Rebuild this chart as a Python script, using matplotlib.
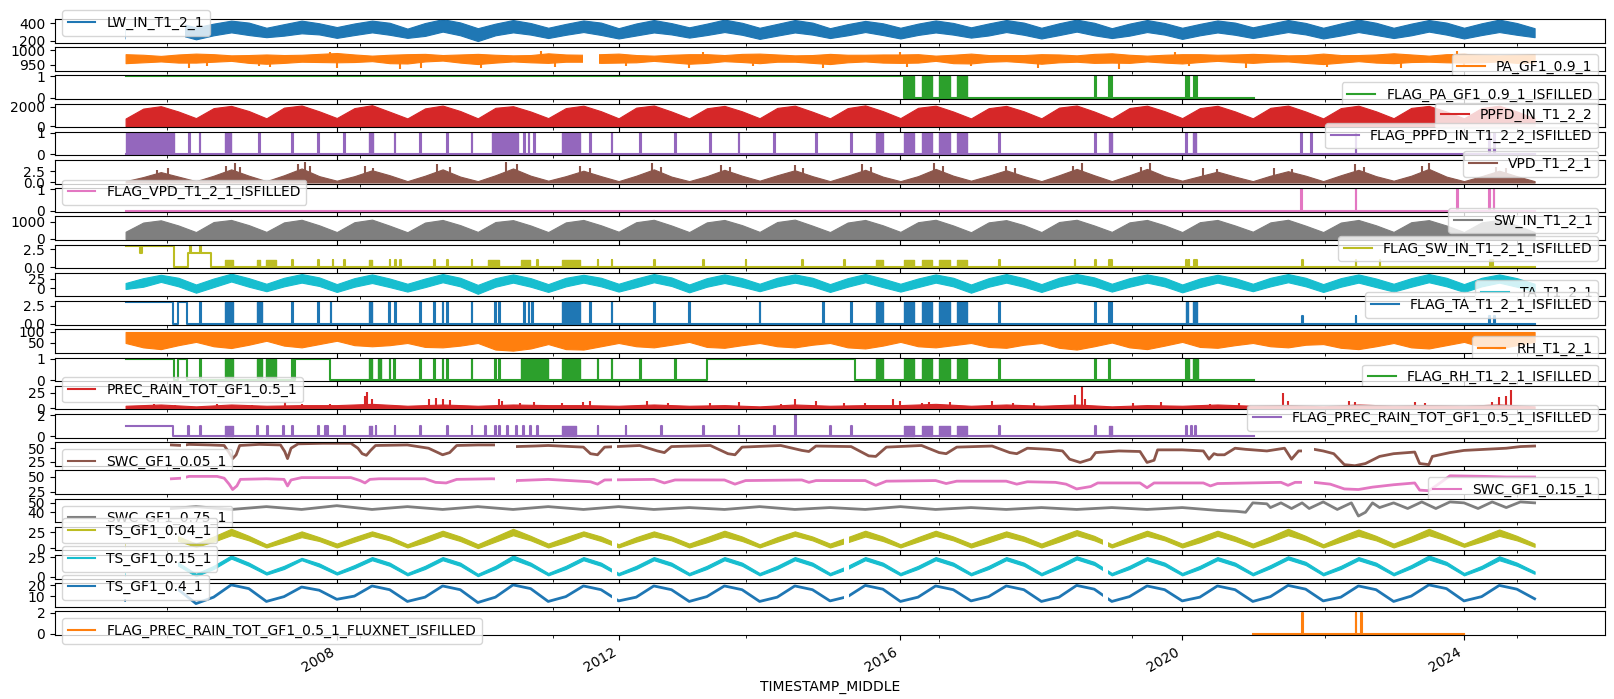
import numpy as np
import pandas as pd
import matplotlib
matplotlib.use("Agg")
import matplotlib.pyplot as plt
import matplotlib.dates as mdates
from matplotlib.ticker import FixedLocator

# ---------------- values (times in decimal years) ----------------
columns = ["LW_IN_T1_2_1", "PA_GF1_0.9_1", "FLAG_PA_GF1_0.9_1_ISFILLED", "PPFD_IN_T1_2_2",
           "FLAG_PPFD_IN_T1_2_2_ISFILLED", "VPD_T1_2_1", "FLAG_VPD_T1_2_1_ISFILLED",
           "SW_IN_T1_2_1", "FLAG_SW_IN_T1_2_1_ISFILLED", "TA_T1_2_1", "FLAG_TA_T1_2_1_ISFILLED",
           "RH_T1_2_1", "FLAG_RH_T1_2_1_ISFILLED", "PREC_RAIN_TOT_GF1_0.5_1",
           "FLAG_PREC_RAIN_TOT_GF1_0.5_1_ISFILLED", "SWC_GF1_0.05_1", "SWC_GF1_0.15_1",
           "SWC_GF1_0.75_1", "TS_GF1_0.04_1", "TS_GF1_0.15_1", "TS_GF1_0.4_1",
           "FLAG_PREC_RAIN_TOT_GF1_0.5_1_FLUXNET_ISFILLED"]

# quarterly envelopes: Jan values for 2005..2025, Apr / Jul / Oct values for 2005..2024
lw_lo_jan = [225, 215, 240, 232, 232, 195, 230, 225, 235, 220, 230, 225, 235, 225, 230, 220, 230, 225, 230, 225, 240]
lw_lo_apr = [260, 262, 258, 265, 255, 262, 268, 260, 265, 258, 262, 266, 260, 264, 258, 262, 265, 260, 262, 265]
lw_lo_jul = [300, 296, 285, 296, 305, 296, 300, 295, 300, 295, 300, 295, 300, 305, 300, 295, 300, 300, 305, 300]
lw_lo_oct = [270, 265, 272, 268, 262, 270, 266, 272, 268, 270, 265, 270, 268, 262, 270, 268, 272, 266, 270, 268]
lw_hi_jan = [350, 355, 350, 358, 340, 345, 350, 345, 355, 350, 345, 350, 355, 350, 345, 350, 355, 350, 350, 350, 345]
lw_hi_apr = [395, 398, 392, 400, 405, 398, 395, 400, 398, 395, 392, 398, 400, 402, 398, 395, 398, 400, 398, 402]
lw_hi_jul = [430, 433, 433, 433, 450, 440, 435, 440, 445, 440, 430, 435, 440, 445, 440, 435, 440, 445, 440, 445]
lw_hi_oct = [405, 410, 402, 408, 412, 405, 410, 404, 408, 410, 402, 406, 410, 408, 405, 410, 406, 408, 410, 405]
lw_gaps = [(2005.0, 2005.85)]

pa_lo_jan = [955, 957, 953, 958, 954, 952, 956, 957, 953, 955, 952, 956, 954, 953, 957, 954, 956, 952, 955, 957, 958]
pa_lo_apr = [958, 960, 956, 959, 961, 957, 960, 958, 956, 960, 958, 957, 960, 958, 956, 959, 960, 957, 959, 958]
pa_lo_jul = [961, 963, 960, 962, 964, 961, 960, 963, 962, 960, 961, 963, 962, 960, 961, 963, 961, 962, 960, 961]
pa_lo_oct = [957, 956, 959, 955, 957, 958, 956, 958, 959, 956, 957, 955, 958, 956, 957, 959, 956, 957, 958, 956]
pa_hi_jan = [986, 988, 985, 990, 986, 987, 989, 988, 986, 988, 987, 985, 988, 986, 989, 986, 987, 988, 989, 987, 986]
pa_hi_apr = [984, 986, 983, 985, 987, 984, 985, 983, 986, 985, 984, 986, 983, 985, 984, 986, 985, 983, 985, 984]
pa_hi_jul = [980, 982, 984, 981, 983, 982, 984, 981, 983, 982, 984, 981, 983, 982, 981, 984, 982, 983, 981, 982]
pa_hi_oct = [985, 983, 987, 984, 985, 983, 986, 984, 987, 983, 985, 984, 983, 987, 984, 985, 983, 985, 986, 984]
pa_dips = [(2005.9, 940), (2006.15, 944), (2006.9, 946), (2007.05, 942), (2008.0, 938), (2008.9, 935),
           (2009.2, 940), (2010.05, 938), (2011.1, 942), (2012.1, 944), (2013.0, 940), (2013.9, 945),
           (2014.9, 938), (2016.1, 942), (2017.0, 944), (2017.95, 940), (2019.1, 936), (2020.1, 944),
           (2020.9, 940), (2022.05, 942), (2023.1, 938), (2024.0, 944)]
pa_peaks = [(2007.9, 994), (2010.9, 996), (2013.2, 993), (2016.0, 995), (2019.9, 994), (2023.9, 996)]
pa_gaps = [(2011.5, 2011.72)]

ppfd_jan = [780, 820, 800, 830, 790, 800, 820, 800, 790, 810, 800, 820, 790, 800, 780, 820, 800, 790, 810, 800, 800]
ppfd_apr = [1800, 1850, 1900, 1850, 1820, 1880, 1850, 1900, 1830, 1870, 1850, 1880, 1840, 1900, 1860, 1850, 1880, 1850, 1870, 1860]
ppfd_jul = [2050, 2080, 2120, 2150, 2110, 2050, 2100, 2120, 2080, 2100, 2130, 2100, 2080, 2120, 2100, 2090, 2110, 2100, 2080, 2100]
ppfd_oct = [1500, 1550, 1520, 1480, 1550, 1500, 1530, 1500, 1520, 1480, 1540, 1500, 1520, 1500, 1530, 1510, 1500, 1520, 1500, 1510]

sw_jan = [420, 400, 410, 400, 390, 410, 400, 420, 400, 410, 400, 410, 390, 400, 410, 400, 420, 400, 410, 400, 400]
sw_apr = [950, 980, 960, 970, 950, 980, 960, 970, 960, 980, 950, 970, 960, 980, 960, 970, 960, 950, 970, 960]
sw_jul = [1080, 1100, 1110, 1120, 1100, 1090, 1100, 1110, 1100, 1120, 1100, 1110, 1090, 1110, 1100, 1100, 1110, 1100, 1090, 1100]
sw_oct = [780, 800, 790, 770, 800, 780, 790, 780, 800, 770, 790, 780, 800, 780, 790, 780, 770, 790, 780, 790]

vpd_jan = [0.3, 0.3, 0.3, 0.4, 0.3, 0.3, 0.4, 0.3, 0.3, 0.4, 0.3, 0.3, 0.4, 0.3, 0.3, 0.4, 0.3, 0.3, 0.4, 0.3, 0.3]
vpd_apr = [1.2, 1.5, 1.6, 1.4, 1.5, 1.6, 1.4, 1.5, 1.4, 1.6, 1.5, 1.4, 1.5, 1.6, 1.6, 1.4, 1.5, 1.6, 1.5, 1.4]
vpd_jul = [2.3, 2.9, 3.1, 2.7, 2.9, 3.1, 2.6, 2.9, 2.8, 2.7, 2.8, 3.0, 2.7, 3.0, 3.0, 2.4, 2.5, 2.8, 3.0, 2.6]
vpd_oct = [1.3, 1.5, 1.4, 1.6, 1.3, 1.5, 1.4, 1.3, 1.5, 1.4, 1.3, 1.5, 1.4, 1.6, 1.4, 1.3, 1.5, 1.4, 1.3, 1.4]
vpd_spikes = [(2005.45, 2.8), (2005.6, 3.1), (2006.42, 3.6), (2006.55, 4.2), (2006.63, 3.4), (2007.45, 4.0),
              (2007.55, 4.6), (2007.62, 3.6), (2008.4, 3.7), (2008.52, 3.3), (2009.42, 4.1), (2009.6, 3.5),
              (2010.4, 4.6), (2010.55, 4.0), (2011.45, 3.6), (2011.6, 3.2), (2012.48, 4.2), (2012.6, 3.5),
              (2013.45, 3.9), (2013.58, 3.4), (2014.5, 3.8), (2014.62, 3.3), (2015.45, 4.0), (2015.58, 3.5),
              (2016.47, 4.4), (2016.6, 3.7), (2017.5, 3.7), (2017.62, 3.3), (2018.57, 4.4), (2018.45, 3.6),
              (2019.54, 4.4), (2019.42, 3.5), (2020.3, 3.2), (2020.5, 3.0), (2021.3, 3.3), (2021.55, 3.0),
              (2022.45, 4.0), (2022.58, 3.4), (2023.5, 4.3), (2023.4, 3.6), (2024.45, 3.5), (2024.6, 3.1)]

ta_lo_jan = [-2, -12, -8, -10, -9, -15, -10, -9, -11, -8, -10, -9, -12, -10, -9, -11, -8, -10, -9, -10, -8]
ta_lo_apr = [4, 3, 5, 4, 3, 4, 5, 3, 4, 5, 4, 3, 4, 5, 4, 3, 5, 4, 4, 5]
ta_lo_jul = [17, 18, 15, 14, 16, 15, 15, 16, 14, 15, 16, 15, 15, 16, 15, 15, 16, 15, 16, 15]
ta_lo_oct = [5, 4, 6, 3, 5, 4, 5, 6, 4, 5, 3, 5, 4, 6, 5, 4, 5, 3, 5, 4]
ta_hi_jan = [14, 10, 12, 11, 12, 9, 11, 12, 10, 12, 11, 12, 10, 11, 12, 10, 12, 11, 12, 11, 12]
ta_hi_apr = [27, 26, 28, 27, 26, 27, 28, 26, 27, 28, 27, 26, 27, 28, 27, 26, 28, 27, 27, 28]
ta_hi_jul = [36, 39, 38, 37, 38, 37, 36, 38, 37, 37, 38, 37, 38, 38, 37, 36, 38, 37, 38, 37]
ta_hi_oct = [28, 27, 29, 26, 28, 27, 28, 29, 27, 28, 26, 28, 27, 29, 28, 27, 28, 26, 28, 27]

rh_top = 100
rh_lo_jan = [50, 55, 60, 60, 50, 50, 45, 50, 55, 50, 50, 55, 50, 50, 52, 55, 50, 45, 50, 55, 55]
rh_lo_apr = [30, 35, 38, 40, 32, 20, 22, 35, 32, 35, 30, 35, 32, 28, 30, 32, 35, 28, 30, 32]
rh_lo_jul = [22, 27, 30, 35, 30, 15, 20, 30, 28, 30, 25, 30, 28, 20, 22, 28, 30, 22, 25, 25]
rh_lo_oct = [40, 42, 45, 40, 38, 25, 35, 42, 40, 42, 38, 40, 42, 35, 38, 40, 42, 35, 40, 40]

# half-year values: winter on 1 Jan 2005..2025, summer on 1 Jul 2005..2024
prec_winter = [4, 3, 4, 5, 4, 4, 5, 4, 4, 3, 4, 5, 4, 4, 3, 4, 4, 3, 4, 4, 3]
prec_summer = [6, 6, 5, 7, 6, 6, 5, 6, 5, 6, 5, 7, 6, 6, 5, 6, 5, 6, 5, 6]
prec_spikes = [(2005.4, 6), (2005.7, 5), (2006.3, 6), (2006.8, 5), (2007.27, 10), (2007.5, 7), (2007.9, 6),
               (2008.4, 20), (2008.43, 26), (2008.5, 15), (2009.3, 14), (2009.4, 17), (2009.5, 15),
               (2009.6, 13), (2010.3, 15), (2010.35, 12), (2010.6, 9), (2010.8, 10), (2011.2, 8),
               (2011.5, 10), (2011.6, 12), (2012.4, 12), (2012.7, 8), (2013.3, 9), (2013.7, 10),
               (2014.3, 7), (2014.5, 14), (2014.8, 12), (2015.2, 8), (2015.5, 9), (2015.9, 14),
               (2016.0, 12), (2016.3, 8), (2016.4, 10), (2016.7, 10), (2017.3, 11), (2017.6, 8),
               (2017.9, 9), (2018.47, 22), (2018.58, 34), (2018.62, 15), (2019.3, 8), (2019.7, 10),
               (2020.4, 7), (2020.8, 9), (2021.43, 24), (2021.5, 12), (2022.37, 12), (2022.45, 10),
               (2023.3, 10), (2023.45, 8), (2024.4, 10), (2024.5, 18), (2024.6, 20), (2024.66, 30)]

swc005 = [(2005.65, 56), (2005.8, 55), (2005.9, 57), (2006.2, 56), (2006.4, 55), (2006.47, 42), (2006.52, 31),
          (2006.57, 38), (2006.62, 55), (2006.9, 57), (2007.2, 56), (2007.26, 44), (2007.3, 31), (2007.35, 50),
          (2007.45, 58), (2007.8, 59), (2008.2, 59), (2008.3, 50), (2008.36, 40), (2008.42, 37), (2008.48, 46),
          (2008.55, 55), (2009.0, 56), (2009.3, 50), (2009.4, 44), (2009.5, 38), (2009.6, 42), (2009.7, 55),
          (2010.0, 56), (2010.25, 56), (2010.54, 53), (2010.8, 54), (2011.0, 55), (2011.5, 52), (2011.6, 40),
          (2011.7, 38), (2011.8, 52), (2012.3, 55), (2012.55, 45), (2012.65, 42), (2012.75, 53), (2013.3, 55),
          (2013.55, 40), (2013.65, 38), (2013.75, 52), (2014.3, 55), (2014.6, 46), (2014.7, 44), (2014.8, 54),
          (2015.3, 53), (2015.55, 36), (2015.65, 35), (2015.8, 52), (2016.3, 55), (2016.55, 42), (2016.65, 40),
          (2016.8, 52), (2017.3, 54), (2017.55, 42), (2017.65, 40), (2017.8, 50), (2018.1, 48), (2018.3, 45),
          (2018.4, 30), (2018.55, 24), (2018.7, 30), (2018.77, 42), (2019.1, 45), (2019.4, 44), (2019.5, 24),
          (2019.6, 28), (2019.65, 47), (2020.0, 47), (2020.3, 45), (2020.38, 30), (2020.45, 40), (2020.5, 38),
          (2020.6, 38), (2020.75, 50), (2020.9, 48), (2021.2, 45), (2021.45, 50), (2021.55, 30), (2021.65, 45),
          (2021.7, 45), (2021.87, 48), (2022.0, 45), (2022.15, 40), (2022.3, 20), (2022.45, 18), (2022.6, 22),
          (2022.8, 35), (2023.0, 40), (2023.3, 43), (2023.37, 22), (2023.5, 20), (2023.55, 35), (2023.8, 42),
          (2024.0, 46), (2024.3, 48), (2024.6, 50), (2024.8, 53), (2025.0, 54)]
swc015 = [(2005.65, 47), (2005.8, 48), (2005.9, 51), (2006.3, 51), (2006.4, 48), (2006.47, 38), (2006.52, 29),
          (2006.58, 35), (2006.63, 46), (2007.0, 47), (2007.25, 46), (2007.3, 35), (2007.35, 45), (2007.5, 49),
          (2008.2, 49), (2008.33, 44), (2008.4, 40), (2008.47, 46), (2008.6, 47), (2009.25, 47), (2009.4, 41),
          (2009.55, 40), (2009.7, 46), (2010.2, 47), (2010.45, 46), (2010.5, 38), (2010.55, 44), (2011.0, 46),
          (2011.6, 42), (2011.7, 38), (2011.8, 45), (2012.5, 46), (2012.65, 40), (2012.8, 45), (2013.5, 45),
          (2013.65, 38), (2013.8, 44), (2014.6, 45), (2014.7, 41), (2014.8, 44), (2015.5, 44), (2015.65, 36),
          (2015.8, 43), (2016.5, 44), (2016.65, 39), (2016.8, 43), (2017.5, 43), (2017.65, 38), (2017.8, 42),
          (2018.2, 41), (2018.35, 38), (2018.5, 30), (2018.7, 34), (2018.8, 40), (2019.4, 40), (2019.5, 32),
          (2019.6, 40), (2020.3, 40), (2020.4, 35), (2020.5, 39), (2021.4, 41), (2021.5, 36), (2021.6, 41),
          (2021.87, 41), (2022.1, 38), (2022.3, 30), (2022.5, 29), (2022.7, 33), (2023.0, 37), (2023.3, 40),
          (2023.37, 28), (2023.5, 27), (2023.6, 35), (2023.8, 52), (2024.3, 51), (2024.6, 50), (2025.0, 50)]
swc_gaps = [(2005.78, 2005.86), (2010.25, 2010.54), (2011.9, 2011.97), (2021.7, 2021.87)]
swc075 = [(2005.65, 44), (2006.0, 46), (2006.5, 43), (2007.0, 46), (2007.5, 43), (2008.0, 47), (2008.5, 43),
          (2009.0, 46), (2009.5, 43), (2010.0, 46), (2010.5, 43), (2011.0, 46), (2011.5, 43), (2012.0, 46),
          (2012.5, 43), (2013.0, 45), (2013.5, 43), (2014.0, 46), (2014.5, 43), (2015.0, 45), (2015.5, 43),
          (2016.0, 46), (2016.5, 43), (2017.0, 45), (2017.5, 43), (2018.0, 45), (2018.5, 43), (2019.0, 45),
          (2019.5, 43), (2020.0, 45), (2020.5, 42), (2020.77, 41), (2020.9, 40), (2021.0, 50), (2021.2, 49),
          (2021.25, 45), (2021.4, 50), (2021.55, 44), (2021.7, 50), (2021.8, 44), (2022.0, 51), (2022.2, 43),
          (2022.4, 50), (2022.5, 36), (2022.6, 40), (2022.7, 50), (2022.8, 45), (2023.0, 50), (2023.2, 44),
          (2023.4, 51), (2023.6, 44), (2023.8, 51), (2024.0, 50), (2024.2, 44), (2024.4, 51), (2024.6, 45),
          (2024.8, 51), (2025.0, 50)]

ts004_lo_jan = [1, 2, 1, 1, 1, 0, 1, 1, 1, 1, 1, 1, 1, 1, 1, 1, 1, 1, 1, 2, 2]
ts004_lo_apr = [9, 10, 9, 10, 9, 10, 9, 10, 9, 10, 9, 10, 9, 10, 10, 9, 10, 10, 10, 10]
ts004_lo_jul = [19, 20, 17, 19, 19, 20, 19, 18, 18, 19, 18, 19, 18, 20, 19, 19, 20, 19, 20, 19]
ts004_lo_oct = [11, 12, 11, 12, 11, 12, 11, 12, 11, 12, 11, 12, 11, 12, 12, 11, 12, 12, 12, 12]
ts004_hi_jan = [7, 7, 6, 7, 6, 6, 7, 6, 7, 6, 7, 6, 7, 7, 6, 7, 7, 6, 7, 7, 7]
ts004_hi_apr = [17, 18, 16, 17, 17, 18, 17, 17, 17, 17, 17, 17, 17, 18, 17, 17, 18, 18, 18, 18]
ts004_hi_jul = [28, 30, 26, 26, 27, 30, 26, 26, 27, 26, 27, 27, 26, 28, 27, 27, 30, 29, 30, 29]
ts004_hi_oct = [18, 19, 17, 18, 18, 19, 18, 18, 18, 18, 18, 18, 18, 19, 18, 18, 19, 19, 19, 19]
ts015_lo_jan = [1, 1, 3, 3, 2, 1, 2, 2, 2, 2, 2, 2, 2, 2, 2, 2, 2, 2, 2, 2, 4]
ts015_lo_apr = [10, 10, 10, 11, 10, 10, 10, 10, 10, 10, 10, 10, 10, 11, 10, 10, 11, 10, 11, 10]
ts015_lo_jul = [22, 23, 21, 21, 21, 22, 21, 21, 21, 21, 21, 21, 21, 22, 21, 21, 22, 21, 22, 21]
ts015_lo_oct = [14, 14, 13, 14, 14, 14, 14, 14, 14, 14, 14, 14, 14, 15, 14, 14, 15, 14, 15, 14]
ts015_hi_jan = [5, 4, 6, 6, 5, 4, 5, 5, 5, 5, 5, 5, 5, 5, 5, 5, 5, 5, 5, 5, 7]
ts015_hi_apr = [14, 14, 14, 15, 14, 14, 14, 14, 14, 14, 14, 14, 14, 15, 14, 14, 15, 14, 15, 14]
ts015_hi_jul = [26, 27, 24, 25, 25, 27, 25, 25, 25, 25, 25, 25, 25, 26, 25, 25, 26, 25, 27, 26]
ts015_hi_oct = [18, 18, 17, 18, 18, 18, 18, 18, 18, 18, 18, 18, 18, 19, 18, 18, 19, 18, 19, 18]
ts040_jan = [6, 3, 5, 7, 5, 4, 5, 5.5, 5, 5, 5.5, 5, 5.5, 5, 5, 5.5, 5, 5.5, 5, 5.5, 7.5]
ts040_apr = [9, 9, 9.5, 10, 9, 9, 9.5, 9, 9.5, 9, 9.5, 9, 9.5, 9, 9.5, 9, 9.5, 9, 10, 9.5]
ts040_jul = [19, 20.5, 18.5, 19.5, 19.5, 20.5, 19.5, 19.5, 19.5, 19.5, 20, 19.5, 19.5, 20, 19.5, 19.5, 20, 19.5, 20.5, 20]
ts040_oct = [16, 17, 15.5, 16, 16, 17, 16, 16, 16, 16, 16.5, 16, 16, 16.5, 16, 16, 16.5, 16, 17, 16.5]
ts_gaps = [(2005.0, 2005.75), (2011.9, 2011.97), (2015.2, 2015.27), (2018.87, 2018.94)]

# flags: step levels (time, value), short spikes (time, value), dense bursts (start, end, value)
mid_bursts = [(2015.65, 2015.75), (2016.05, 2016.2), (2016.3, 2016.45), (2016.55, 2016.7), (2016.8, 2016.95)]

flag_pa_levels = [(2005.0, 1), (2016.05, 0), (2021.02, np.nan)]
flag_pa_spikes = [(2018.76, 1), (2018.96, 1), (2018.99, 1), (2020.06, 1), (2020.09, 1), (2020.17, 1), (2020.2, 1)]
flag_pa_bursts = [(a, b, 1) for a, b in mid_bursts[1:]]

flag_ppfd_levels = [(2005.0, 0), (2025.0, np.nan)]
flag_ppfd_spikes = [(t, 1) for t in [2005.9, 2006.05, 2006.9, 2007.37, 2007.73, 2008.1, 2008.82, 2009.18, 2009.56,
                                     2009.91, 2010.24, 2010.66, 2010.72, 2010.8, 2011.6, 2011.9, 2012.3, 2012.8,
                                     2013.3, 2013.7, 2014.2, 2014.8, 2015.3, 2017.4, 2018.76, 2020.06, 2021.68,
                                     2021.83, 2022.46, 2024.35, 2024.43]]
flag_ppfd_bursts = [(2005.0, 2005.69, 1), (2006.41, 2006.5, 1), (2008.45, 2008.51, 1), (2010.2, 2010.57, 1),
                    (2011.2, 2011.45, 1), (2018.96, 2019.0, 1), (2020.15, 2020.2, 1)] + \
                   [(a, b, 1) for a, b in mid_bursts]

flag_vpd_levels = [(2005.0, 0), (2025.0, np.nan)]
flag_vpd_spikes = [(2021.68, 1), (2022.46, 1), (2023.9, 1), (2024.36, 1), (2024.42, 1)]

flag_sw_levels = [(2005.0, 3), (2005.21, 2), (2005.23, 3), (2005.68, 0), (2005.89, 2), (2006.22, 0), (2025.0, np.nan)]
flag_sw_spikes = [(2005.91, 3), (2006.06, 3)] + \
                 [(t, 1) for t in [2007.37, 2007.73, 2007.94, 2008.1, 2008.75, 2008.83, 2008.9, 2009.38, 2009.56,
                                   2009.91, 2010.84, 2011.7, 2011.9, 2012.5, 2013.2, 2013.8, 2014.6, 2015.2,
                                   2017.4, 2018.47, 2018.76, 2018.96, 2018.99, 2020.06, 2020.09, 2020.17,
                                   2020.2, 2021.7, 2022.46, 2022.8, 2024.37, 2024.4]]
flag_sw_bursts = [(2006.41, 2006.52, 1), (2006.87, 2006.91, 1), (2007.0, 2007.14, 1), (2008.45, 2008.5, 1),
                  (2010.15, 2010.3, 1), (2010.62, 2010.74, 1), (2011.2, 2011.45, 1)] + \
                 [(a, b, 1) for a, b in mid_bursts]

flag_ta_levels = [(2005.0, 3), (2005.67, 0), (2005.75, 3), (2005.87, 0), (2025.0, np.nan)]
flag_ta_spikes = [(t, 3) for t in [2006.06, 2007.37, 2007.73, 2007.91, 2008.74, 2008.83, 2009.18, 2009.38, 2009.5,
                                   2009.56, 2009.91, 2010.24, 2010.3, 2010.66, 2010.72, 2010.77, 2011.6, 2011.9,
                                   2012.5, 2013.0, 2014.0, 2014.9, 2015.3, 2017.4, 2018.76, 2018.96, 2018.99]] + \
                 [(2021.7, 1), (2022.46, 1), (2024.35, 1), (2024.43, 1)]
flag_ta_bursts = [(2006.41, 2006.52, 3), (2006.87, 2006.93, 3), (2008.45, 2008.5, 3), (2011.2, 2011.45, 3),
                  (2020.05, 2020.08, 3), (2020.15, 2020.21, 3)] + [(a, b, 3) for a, b in mid_bursts]

flag_rh_levels = [(2005.0, 1), (2005.68, 0), (2005.75, 1), (2005.87, 0), (2007.41, 1), (2007.9, 0),
                  (2013.25, 1), (2015.35, 0), (2021.02, np.nan)]
flag_rh_spikes = [(t, 1) for t in [2006.06, 2007.37, 2008.75, 2008.81, 2009.18, 2009.38, 2009.5, 2009.56, 2009.91,
                                   2010.24, 2010.3, 2011.7, 2011.9, 2012.3, 2012.8, 2017.4, 2018.76, 2018.96,
                                   2020.06, 2020.18]]
flag_rh_bursts = [(2006.41, 2006.52, 1), (2006.87, 2006.93, 1), (2007.0, 2007.14, 1), (2008.45, 2008.5, 1),
                  (2008.58, 2008.63, 1), (2010.62, 2011.0, 1), (2011.2, 2011.45, 1), (2020.05, 2020.1, 1),
                  (2020.15, 2020.22, 1)] + [(a, b, 1) for a, b in mid_bursts]

flag_prec_levels = [(2005.0, 1), (2005.67, 0), (2021.02, np.nan)]
flag_prec_spikes = [(t, 1) for t in [2005.89, 2006.06, 2006.87, 2007.01, 2007.24, 2007.37, 2007.73, 2007.83,
                                     2007.86, 2008.1, 2008.55, 2008.82, 2009.18, 2009.56, 2009.91, 2010.1, 2010.24,
                                     2010.3, 2010.41, 2010.54, 2010.64, 2010.74, 2010.84, 2011.7, 2012.1, 2012.6,
                                     2013.2, 2013.7, 2014.2, 2015.0, 2015.3, 2017.4, 2018.76, 2020.06, 2020.12,
                                     2020.18]] + [(2014.5, 2)]
flag_prec_bursts = [(2006.41, 2006.53, 1), (2008.45, 2008.5, 1), (2011.2, 2011.4, 1), (2018.96, 2019.0, 1)] + \
                   [(a, b, 1) for a, b in mid_bursts[1:]]

flag_flux_levels = [(2021.0, 0), (2024.0, np.nan)]
flag_flux_spikes = [(2021.7, 2), (2022.46, 2), (2022.54, 2)]

y_limits = [(178, 452), (929, 1010), (-0.05, 1.05), (-110, 2310), (-0.05, 1.05), (-0.24, 4.95),
            (-0.05, 1.05), (-60, 1300), (-0.15, 3.15), (-22, 41), (-0.15, 3.15), (5, 112),
            (-0.05, 1.05), (-1.7, 36), (-0.1, 2.1), (18, 61), (21.6, 61), (29.5, 54.5),
            (-3.5, 33), (-2, 27.5), (0, 22), (-0.1, 2.1)]
y_ticks = [[200, 400], [950, 1000], [0, 1], [0, 2000], [0, 1], [0, 2.5], [0, 1], [0, 1000], [0, 2.5],
           [0, 25], [0, 2.5], [50, 100], [0, 1], [0, 25], [0, 2], [25, 50], [25, 50], [40, 50],
           [0, 25], [0, 25], [10, 20], [0, 2]]
legend_loc = ["lower left", "upper right", "upper right", "center right", "lower right", "lower right",
              "lower left", "lower right", "lower right", "upper right", "lower right", "upper right",
              "upper right", "lower left", "lower right", "upper left", "upper right", "upper left",
              "lower left", "lower left", "lower left", "upper left"]


def ynum(years):
    years = np.atleast_1d(np.asarray(years, dtype=float))
    whole = np.floor(years).astype(int)
    start = pd.to_datetime([f"{y}-01-01" for y in whole])
    stamps = start + pd.to_timedelta((years - whole) * 365.25, unit="D")
    return mdates.date2num(stamps.to_pydatetime())


def seasonal(winter, summer):
    t, v = [], []
    for i in range(len(summer)):
        t += [2005 + i, 2005.5 + i]
        v += [winter[i], summer[i]]
    t.append(2005 + len(summer))
    v.append(winter[-1])
    return np.array(t, float), np.array(v, float)


def quarterly(jan, apr, jul, octo):
    t, v = [], []
    for i in range(len(jul)):
        t += [2005 + i, 2005.25 + i, 2005.5 + i, 2005.75 + i]
        v += [jan[i], apr[i], jul[i], octo[i]]
    t.append(2005 + len(jul))
    v.append(jan[-1])
    return np.array(t, float), np.array(v, float)


def band(ax, t, lo, hi, color):
    ax.fill_between(ynum(t), lo, hi, color=color, edgecolor=color, lw=0.8)


def pairs(ax, data, color, lw=2.0):
    ax.plot(ynum([p[0] for p in data]), [p[1] for p in data], color=color, lw=lw)


def spikes(ax, data, base, color):
    ax.vlines(ynum([p[0] for p in data]), base, [p[1] for p in data], color=color, lw=1.5)


def gaps(ax, spans):
    for a, b in spans:
        ax.axvspan(ynum(a)[0], ynum(b)[0], color="white", lw=0, zorder=2.2)


def flag(ax, levels, spike_list, bursts, color):
    lt = [p[0] for p in levels]

    def level_at(t):
        i = np.searchsorted(lt, t, side="right") - 1
        return levels[max(i, 0)][1]

    pts = list(levels)
    for t, v in spike_list:
        pts.append((t, v))
        pts.append((t + 0.012, level_at(t + 0.012)))
    pts.sort(key=lambda p: p[0])
    ax.plot(ynum([p[0] for p in pts]), [p[1] for p in pts], color=color, lw=1.5, drawstyle="steps-post")
    for a, b, v in bursts:
        ax.fill_between(ynum([a, b]), 0, v, color=color, edgecolor=color, lw=1)


colors = plt.rcParams["axes.prop_cycle"].by_key()["color"]
c = [colors[i % 10] for i in range(len(columns))]
fig, axes = plt.subplots(len(columns), 1, sharex=True, figsize=(16.14, 6.99), dpi=100)
fig.subplots_adjust(left=55 / 1614, right=1605 / 1614, top=1 - 19 / 699, bottom=64 / 699, hspace=0.2)

for i, ax in enumerate(axes):
    ax.plot([], [], color=c[i], label=columns[i])

t, lo = quarterly(lw_lo_jan, lw_lo_apr, lw_lo_jul, lw_lo_oct)
_, hi = quarterly(lw_hi_jan, lw_hi_apr, lw_hi_jul, lw_hi_oct)
band(axes[0], t, lo, hi, c[0])
gaps(axes[0], lw_gaps)

t, lo = quarterly(pa_lo_jan, pa_lo_apr, pa_lo_jul, pa_lo_oct)
_, hi = quarterly(pa_hi_jan, pa_hi_apr, pa_hi_jul, pa_hi_oct)
band(axes[1], t, lo, hi, c[1])
spikes(axes[1], pa_dips, 960, c[1])
spikes(axes[1], pa_peaks, 980, c[1])
gaps(axes[1], pa_gaps)

flag(axes[2], flag_pa_levels, flag_pa_spikes, flag_pa_bursts, c[2])

t, hi = quarterly(ppfd_jan, ppfd_apr, ppfd_jul, ppfd_oct)
band(axes[3], t, 0, hi, c[3])

flag(axes[4], flag_ppfd_levels, flag_ppfd_spikes, flag_ppfd_bursts, c[4])

t, hi = quarterly(vpd_jan, vpd_apr, vpd_jul, vpd_oct)
band(axes[5], t, 0, hi, c[5])
spikes(axes[5], vpd_spikes, 0, c[5])

flag(axes[6], flag_vpd_levels, flag_vpd_spikes, [], c[6])

t, hi = quarterly(sw_jan, sw_apr, sw_jul, sw_oct)
band(axes[7], t, 0, hi, c[7])

flag(axes[8], flag_sw_levels, flag_sw_spikes, flag_sw_bursts, c[8])

t, lo = quarterly(ta_lo_jan, ta_lo_apr, ta_lo_jul, ta_lo_oct)
_, hi = quarterly(ta_hi_jan, ta_hi_apr, ta_hi_jul, ta_hi_oct)
band(axes[9], t, lo, hi, c[9])

flag(axes[10], flag_ta_levels, flag_ta_spikes, flag_ta_bursts, c[10])

t, lo = quarterly(rh_lo_jan, rh_lo_apr, rh_lo_jul, rh_lo_oct)
band(axes[11], t, lo, rh_top, c[11])

flag(axes[12], flag_rh_levels, flag_rh_spikes, flag_rh_bursts, c[12])

t, hi = seasonal(prec_winter, prec_summer)
band(axes[13], t, 0, hi, c[13])
spikes(axes[13], prec_spikes, 0, c[13])

flag(axes[14], flag_prec_levels, flag_prec_spikes, flag_prec_bursts, c[14])

pairs(axes[15], swc005, c[15])
gaps(axes[15], swc_gaps)
pairs(axes[16], swc015, c[16])
gaps(axes[16], swc_gaps)
pairs(axes[17], swc075, c[17])

t, lo = quarterly(ts004_lo_jan, ts004_lo_apr, ts004_lo_jul, ts004_lo_oct)
_, hi = quarterly(ts004_hi_jan, ts004_hi_apr, ts004_hi_jul, ts004_hi_oct)
band(axes[18], t, lo, hi, c[18])
gaps(axes[18], ts_gaps)
t, lo = quarterly(ts015_lo_jan, ts015_lo_apr, ts015_lo_jul, ts015_lo_oct)
_, hi = quarterly(ts015_hi_jan, ts015_hi_apr, ts015_hi_jul, ts015_hi_oct)
band(axes[19], t, lo, hi, c[19])
gaps(axes[19], ts_gaps)
t, v = quarterly(ts040_jan, ts040_apr, ts040_jul, ts040_oct)
axes[20].plot(ynum(t), v, color=c[20], lw=2)
gaps(axes[20], ts_gaps)

flag(axes[21], flag_flux_levels, flag_flux_spikes, [], c[21])

for i, ax in enumerate(axes):
    ax.set_ylim(*y_limits[i])
    ax.set_yticks(y_ticks[i])
    ax.legend(loc=legend_loc[i])

axes[0].set_xlim(ynum(2004.0)[0], ynum(2026.0)[0])
axes[0].xaxis.set_major_locator(FixedLocator(ynum([2008, 2012, 2016, 2020, 2024])))
axes[0].xaxis.set_major_formatter(mdates.DateFormatter("%Y"))
axes[0].xaxis.set_minor_locator(FixedLocator(np.arange(13000, 20001, 1000)))
plt.setp(axes[-1].get_xticklabels(), rotation=30, ha="right")
axes[-1].set_xlabel("TIMESTAMP_MIDDLE")

fig.savefig("out.png", dpi=100)
